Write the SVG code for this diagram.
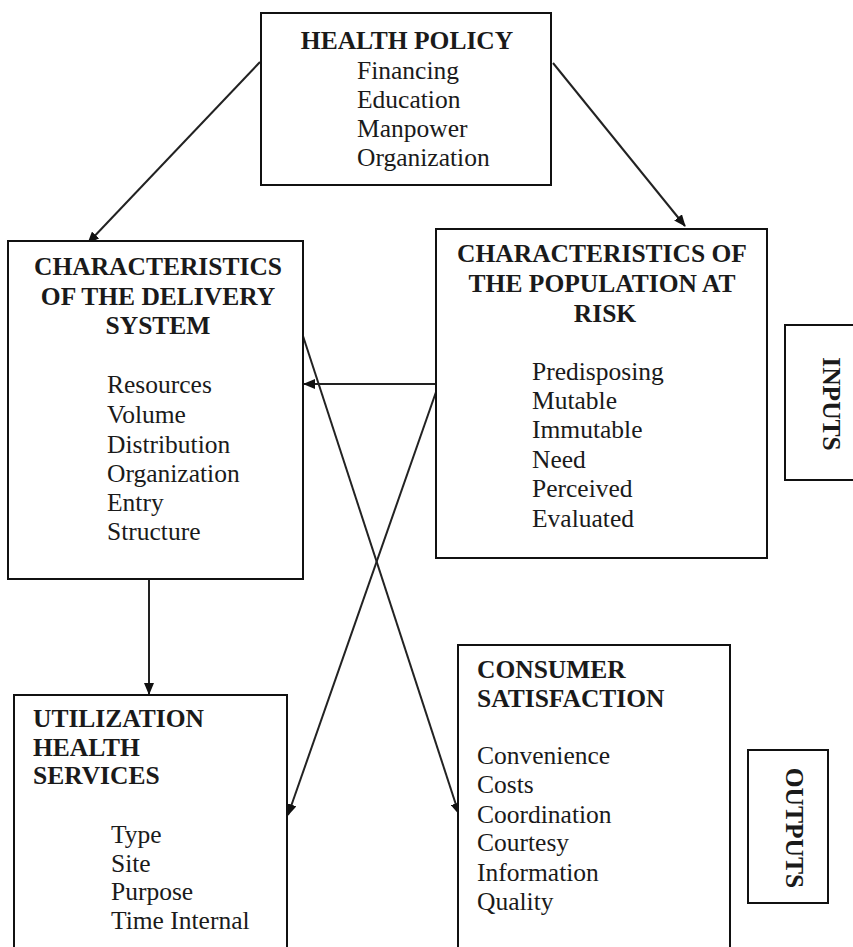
<svg xmlns="http://www.w3.org/2000/svg" width="853" height="947" viewBox="0 0 853 947">
<style>
.box{fill:#fff;stroke:#111;stroke-width:2}
.t{font-family:"Liberation Serif","Times New Roman",serif;font-size:25.5px;fill:#1a1a1a}
.h{font-family:"Liberation Serif","Times New Roman",serif;font-size:25.5px;font-weight:bold;fill:#1a1a1a}
.c{text-anchor:middle}
.ln{stroke:#222;stroke-width:2;fill:none}
</style>
<defs>
<marker id="ah" viewBox="0 0 12 10" refX="11" refY="5" markerWidth="12" markerHeight="10" markerUnits="userSpaceOnUse" orient="auto">
<path d="M0,0 L12,5 L0,10 Z" fill="#111"/>
</marker>
</defs>
<rect width="853" height="947" fill="#fff"/>
<g id="connectors">
<line class="ln" x1="260" y1="62" x2="88" y2="243" marker-end="url(#ah)"/>
<line class="ln" x1="553" y1="63" x2="685" y2="226" marker-end="url(#ah)"/>
<line class="ln" x1="437" y1="384" x2="304" y2="384" marker-end="url(#ah)"/>
<line class="ln" x1="149" y1="579" x2="149" y2="694" marker-end="url(#ah)"/>
<line class="ln" x1="436" y1="392" x2="288" y2="815" marker-end="url(#ah)"/>
<line class="ln" x1="303" y1="336" x2="459" y2="814" marker-end="url(#ah)"/>
</g>
<g id="health-policy">
<rect class="box" x="261" y="13" width="290" height="172"/>
<text class="h c" x="407" y="49">HEALTH POLICY</text>
<text class="t" x="357" y="79">Financing</text>
<text class="t" x="357" y="108">Education</text>
<text class="t" x="357" y="137">Manpower</text>
<text class="t" x="357" y="166">Organization</text>
</g>
<g id="delivery-system">
<rect class="box" x="8" y="241" width="295" height="338"/>
<text class="h c" x="158" y="275">CHARACTERISTICS</text>
<text class="h c" x="158" y="305">OF THE DELIVERY</text>
<text class="h c" x="158" y="334">SYSTEM</text>
<text class="t" x="107" y="393">Resources</text>
<text class="t" x="107" y="423">Volume</text>
<text class="t" x="107" y="453">Distribution</text>
<text class="t" x="107" y="482">Organization</text>
<text class="t" x="107" y="511">Entry</text>
<text class="t" x="107" y="540">Structure</text>
</g>
<g id="population-at-risk">
<rect class="box" x="436" y="229" width="331" height="329"/>
<text class="h c" x="602" y="262">CHARACTERISTICS OF</text>
<text class="h c" x="602" y="292">THE POPULATION AT</text>
<text class="h c" x="605" y="322">RISK</text>
<text class="t" x="532" y="380">Predisposing</text>
<text class="t" x="532" y="409">Mutable</text>
<text class="t" x="532" y="438">Immutable</text>
<text class="t" x="532" y="468">Need</text>
<text class="t" x="532" y="497">Perceived</text>
<text class="t" x="532" y="527">Evaluated</text>
</g>
<g id="inputs">
<rect class="box" x="785" y="325" width="80" height="155"/>
<text class="h c" transform="translate(823,404) rotate(90)">INPUTS</text>
</g>
<g id="utilization">
<rect class="box" x="14" y="695" width="273" height="270"/>
<text class="h" x="33" y="727">UTILIZATION</text>
<text class="h" x="33" y="756">HEALTH</text>
<text class="h" x="33" y="784">SERVICES</text>
<text class="t" x="111" y="843">Type</text>
<text class="t" x="111" y="872">Site</text>
<text class="t" x="111" y="900">Purpose</text>
<text class="t" x="111" y="929">Time Internal</text>
</g>
<g id="consumer-satisfaction">
<rect class="box" x="458" y="645" width="272" height="320"/>
<text class="h" x="477" y="678">CONSUMER</text>
<text class="h" x="477" y="707">SATISFACTION</text>
<text class="t" x="477" y="764">Convenience</text>
<text class="t" x="477" y="793">Costs</text>
<text class="t" x="477" y="823">Coordination</text>
<text class="t" x="477" y="851">Courtesy</text>
<text class="t" x="477" y="881">Information</text>
<text class="t" x="477" y="910">Quality</text>
</g>
<g id="outputs">
<rect class="box" x="748" y="750" width="80" height="153"/>
<text class="h c" transform="translate(786,828) rotate(90)">OUTPUTS</text>
</g>
</svg>
